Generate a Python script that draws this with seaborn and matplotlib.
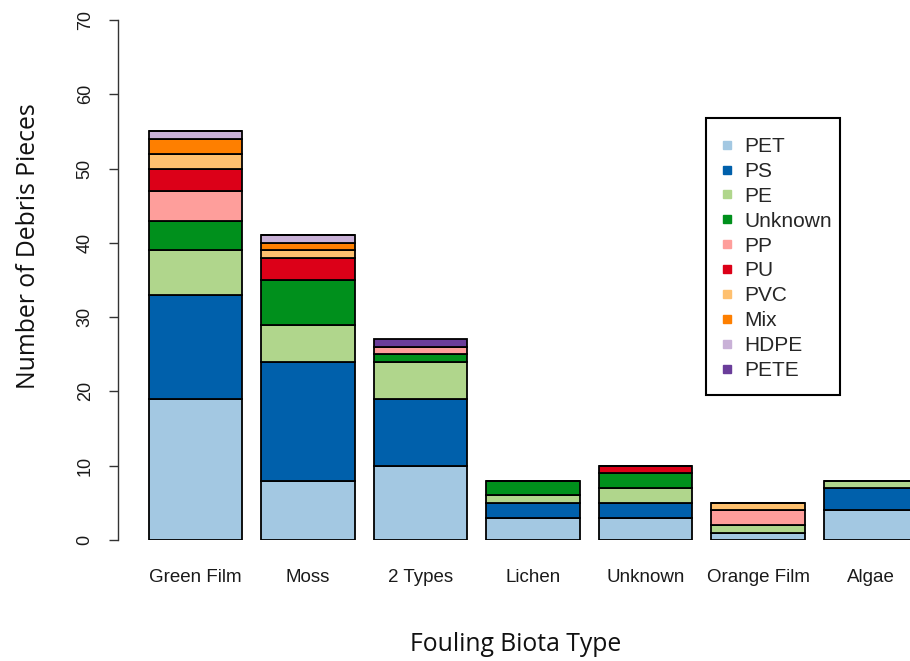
import matplotlib
matplotlib.use("Agg")
import matplotlib.pyplot as plt
from matplotlib.lines import Line2D
from matplotlib.patches import Rectangle
import seaborn as sns
import pandas as pd

# fouling biota types (x categories)
biota = ["Green Film", "Moss", "2 Types", "Lichen", "Unknown", "Orange Film", "Algae"]

# polymer types, bottom to top of each stack
polymers = ["PET", "PS", "PE", "Unknown", "PP", "PU", "PVC", "Mix", "HDPE", "PETE"]

# counts per polymer, one value per biota type
pet = [19, 8, 10, 3, 3, 1, 4]
ps = [14, 16, 9, 2, 2, 0, 3]
pe = [6, 5, 5, 1, 2, 1, 1]
unknown = [4, 6, 1, 2, 2, 0, 0]
pp = [4, 0, 1, 0, 0, 2, 0]
pu = [3, 3, 0, 0, 1, 0, 0]
pvc = [2, 1, 0, 0, 0, 1, 0]
mix = [2, 1, 0, 0, 0, 0, 0]
hdpe = [1, 1, 0, 0, 0, 0, 0]
pete = [0, 0, 1, 0, 0, 0, 0]

counts = [pet, ps, pe, unknown, pp, pu, pvc, mix, hdpe, pete]

colors = ["#a3c8e2", "#0060ab", "#b0d68c", "#00901c", "#fe9e9b",
          "#dc0018", "#fec06f", "#fe7f00", "#c9b1d7", "#6a3d9a"]

rows = []
for poly, vals in zip(polymers, counts):
    for b, v in zip(biota, vals):
        rows.append({"biota": b, "polymer": poly, "count": v})
df = pd.DataFrame(rows)

sns.set_style("ticks")
plt.rcParams["font.family"] = ["Liberation Sans", "DejaVu Sans"]

fig = plt.figure(figsize=(9.10, 6.61), dpi=100)
ax = fig.add_axes([118 / 910, 121 / 661, 1 - 118 / 910, 520 / 661])

# seaborn stacks the last hue level at the bottom, so reverse the order
sns.histplot(data=df, x="biota", hue="polymer", weights="count",
             hue_order=polymers[::-1], palette=dict(zip(polymers, colors)),
             multiple="stack", discrete=True, shrink=1 / 1.2,
             edgecolor="black", linewidth=1.3, alpha=1, legend=False, ax=ax)

ax.set_xlim(-0.689, 6.351)
ax.set_ylim(0, 70)
ax.set_yticks(range(0, 71, 10))
ax.tick_params(axis="y", length=6.5, width=1, pad=11, labelsize=13,
               labelrotation=90, color="#333333", labelcolor="#1a1a1a")
for lab in ax.get_yticklabels():
    lab.set_verticalalignment("center")
ax.tick_params(axis="x", length=0, pad=21, labelsize=13.5, labelcolor="#1a1a1a")
for s in ["top", "right", "bottom"]:
    ax.spines[s].set_visible(False)
ax.spines["left"].set_color("#333333")
ax.spines["left"].set_linewidth(1)

label_font = ["Open Sans", "DejaVu Sans"]
ax.set_xlabel("Fouling Biota Type", fontsize=17.8, family=label_font, color="#111111")
ax.set_ylabel("Number of Debris Pieces", fontsize=17.8, family=label_font, color="#111111")
ax.xaxis.set_label_coords((516 - 118) / 792, -0.176)
ax.yaxis.set_label_coords(-0.097, 0.565)

handles = [Line2D([], [], marker="s", linestyle="none", markersize=6,
                  markerfacecolor=c, markeredgecolor=c) for c in colors]
leg = fig.legend(handles, polymers, loc="upper left",
                 bbox_to_anchor=(716.6 / 910, 1 - 137 / 661),
                 frameon=False, fontsize=15,
                 labelspacing=0.283, handlelength=1.0, handletextpad=0.32,
                 borderpad=0, borderaxespad=0)
# R-style legend box
fig.add_artist(Rectangle((706 / 910, 1 - 395 / 661), 134 / 910, 277 / 661,
                         transform=fig.transFigure, fill=False,
                         edgecolor="black", linewidth=1.5))

fig.savefig("out.png", dpi=100)
